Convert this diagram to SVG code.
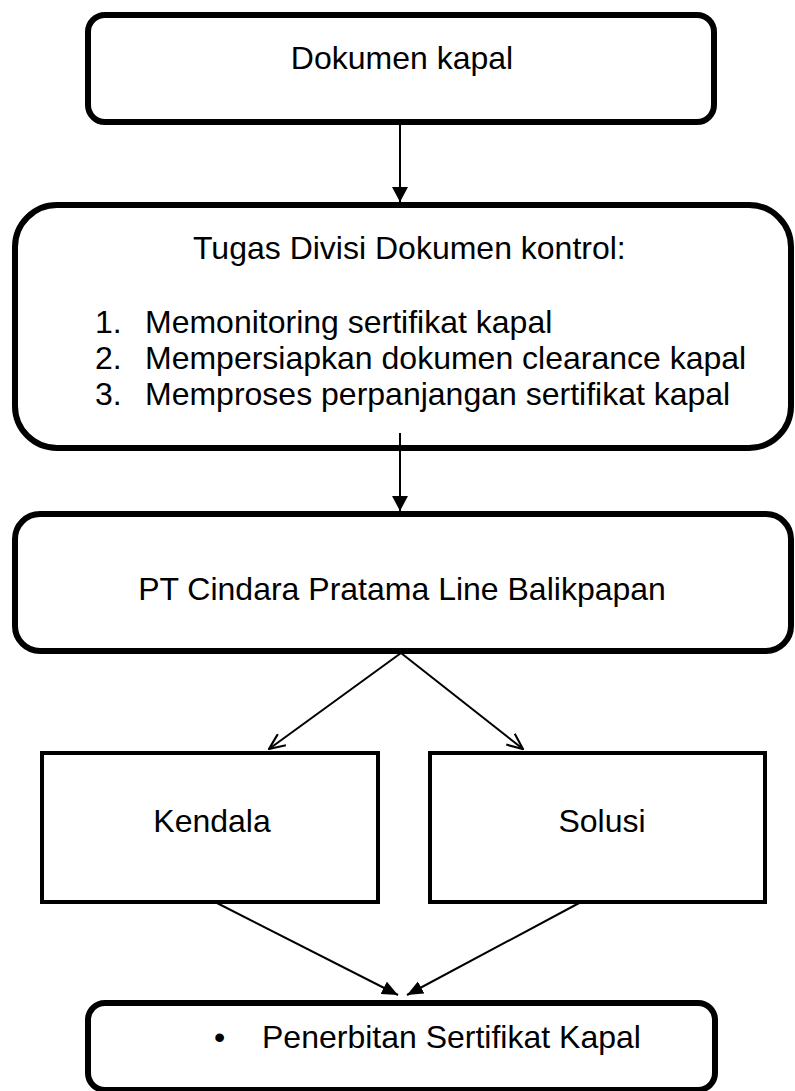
<svg xmlns="http://www.w3.org/2000/svg" width="795" height="1091" viewBox="0 0 795 1091">
<style>
.box{fill:#fff;stroke:#000;stroke-width:6}
.sq{fill:#fff;stroke:#000;stroke-width:4}
.t{font-family:"Liberation Sans",Arial,sans-serif;font-size:32px;fill:#000}
.c{text-anchor:middle}
.ln{stroke:#000;stroke-width:2;fill:none}
</style>
<defs>
<marker id="af" markerUnits="userSpaceOnUse" markerWidth="16" markerHeight="16" viewBox="0 0 14 15" refX="14" refY="7.5" orient="auto">
<path d="M0,0 L14,7.5 L0,15 Z" fill="#000"/>
</marker>
<marker id="as" markerUnits="userSpaceOnUse" markerWidth="16" markerHeight="14" viewBox="0 0 14 12" refX="14" refY="6" orient="auto">
<path d="M0,0 L14,6 L0,12 Z" fill="#000"/>
</marker>
<marker id="ao" markerUnits="userSpaceOnUse" markerWidth="18" markerHeight="16" viewBox="-1 -1 17 15" refX="15" refY="6.5" orient="auto">
<path d="M0,0 L15,6.5 L0,13" fill="none" stroke="#000" stroke-width="2"/>
</marker>
</defs>
<g id="n1">
<rect class="box" x="88" y="15" width="626" height="107" rx="17"/>
<text class="t c" x="402" y="69">Dokumen kapal</text>
</g>
<g id="n2">
<rect class="box" x="15" y="205" width="776" height="243" rx="42"/>
<text class="t" x="193" y="259">Tugas Divisi Dokumen kontrol:</text>
<text class="t" x="95" y="333">1.</text><text class="t" x="145" y="333">Memonitoring sertifikat kapal</text>
<text class="t" x="95" y="369">2.</text><text class="t" x="145" y="369">Mempersiapkan dokumen clearance kapal</text>
<text class="t" x="95" y="405">3.</text><text class="t" x="145" y="405">Memproses perpanjangan sertifikat kapal</text>
</g>
<g id="n3">
<rect class="box" x="15" y="514" width="776" height="137" rx="25"/>
<text class="t c" x="402" y="600">PT Cindara Pratama Line Balikpapan</text>
</g>
<g id="n4">
<rect class="sq" x="42" y="753" width="336" height="149"/>
<text class="t c" x="212" y="832">Kendala</text>
</g>
<g id="n5">
<rect class="sq" x="430" y="753" width="335" height="149"/>
<text class="t c" x="602" y="832">Solusi</text>
</g>
<g id="n6">
<rect class="box" x="88" y="1003" width="627" height="87" rx="17"/>
<text class="t" x="214" y="1048">•</text>
<text class="t" x="262" y="1048">Penerbitan Sertifikat Kapal</text>
</g>
<g id="connectors">
<line class="ln" x1="400" y1="122" x2="400" y2="202" marker-end="url(#af)"/>
<line class="ln" x1="400" y1="433" x2="400" y2="511" marker-end="url(#af)"/>
<line class="ln" x1="401" y1="653" x2="269" y2="749" marker-end="url(#ao)"/>
<line class="ln" x1="401" y1="653" x2="523" y2="749" marker-end="url(#ao)"/>
<line class="ln" x1="215" y1="902" x2="398" y2="995" marker-end="url(#as)"/>
<line class="ln" x1="581" y1="902" x2="407" y2="995" marker-end="url(#as)"/>
</g>
</svg>
